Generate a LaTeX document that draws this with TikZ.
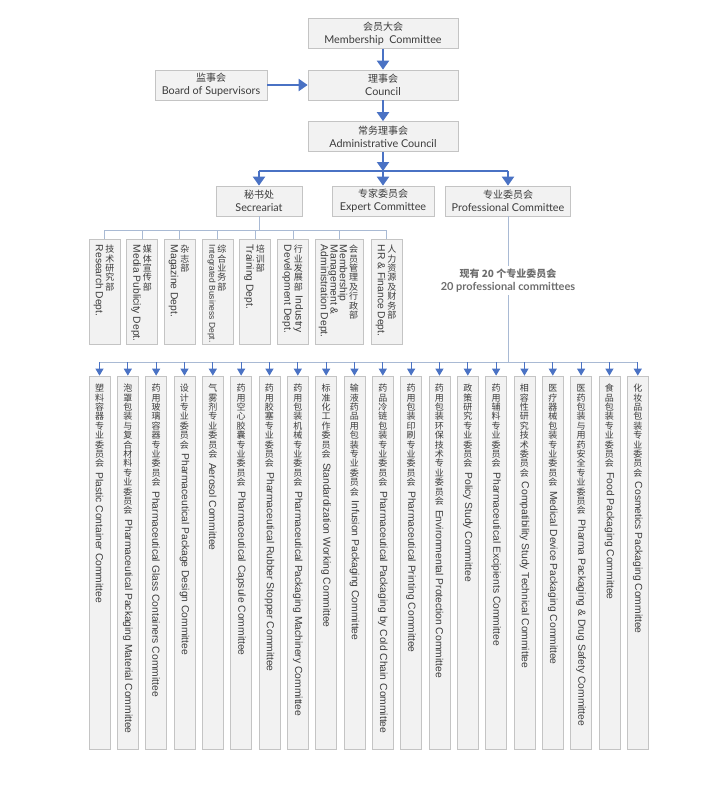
\documentclass[tikz,border=0pt]{standalone}
\usepackage{fontspec}
\usepackage{graphicx}
\usetikzlibrary{arrows.meta}
\setmainfont{Liberation Sans}
\newfontfamily\cjk{Noto Sans CJK SC}
\newfontfamily\hum{Lato}
\definecolor{boxfill}{HTML}{F2F2F2}
\definecolor{boxline}{HTML}{C4C4C4}
\definecolor{textgray}{HTML}{3C3C3C}
\definecolor{notegray}{HTML}{6E6E6E}
\definecolor{arrowblue}{HTML}{4A72C4}
\definecolor{thinline}{HTML}{A9BAD4}
\makeatletter
\newdimen\cn@w \cn@w=11pt
\def\cn@loop#1{\ifx#1\relax\else\hbox to\cn@w{\hss\vrule height 7.9pt depth 1.5pt width 0pt\relax #1\hss}\expandafter\cn@loop\fi}
\newcommand\zhcol[1]{\vtop{\kern0pt\offinterlineskip\cjk\fontsize{9}{9}\selectfont\expandafter\cn@loop#1\relax}}
\newcommand\encol[1]{\vtop{\kern0pt\hbox{\rotatebox{-90}{\fontsize{10.3}{12}\selectfont #1}}}}
\newcommand\vcol[2]{\vtop{\kern0pt\offinterlineskip{\cjk\fontsize{9}{9}\selectfont\expandafter\cn@loop#1\relax}\kern4pt\hbox to\cn@w{\hss\rotatebox{-90}{\fontsize{10.3}{12}\selectfont #2}\hss}}}
\makeatother
\tikzset{
  box/.style={draw=boxline, fill=boxfill, line width=0.7pt, inner sep=0pt},
  topbox/.style={box, minimum height=30pt, align=center, text=textgray, font=\fontsize{10}{13}\selectfont},
  bigarrow/.style={draw=arrowblue, line width=2pt, -{Triangle[width=12pt,length=9pt]}},
  hubline/.style={draw=arrowblue, line width=1.4pt},
  thinconn/.style={draw=thinline, line width=0.9pt},
  smallarrow/.style={draw=arrowblue, line width=1pt, -{Triangle[width=8pt,length=7pt]}},
  lbl/.style={anchor=north, inner sep=0pt, text=textgray}
}
\newcommand\topen[1]{{\hum\fontsize{10.8}{13}\selectfont #1}}
\begin{document}
\begin{tikzpicture}[x=1pt, y=-1pt]
\useasboundingbox (0,0) rectangle (705,785);
% top level
\node[topbox, minimum width=150pt] (mem) at (383,33.5) {{\cjk 会员大会}\\\topen{Membership\ \ Committee}};
\node[topbox, minimum width=150pt] (coun) at (383,85) {{\cjk 理事会}\\\topen{Council}};
\node[topbox, minimum width=112pt] (board) at (211,85) {{\cjk 监事会}\\\topen{Board of Supervisors}};
\node[topbox, minimum width=150pt] (adm) at (383,136.5) {{\cjk 常务理事会}\\\topen{Administrative Council}};
\node[topbox, minimum width=86pt] (sec) at (259,201) {{\cjk 秘书处}\\\topen{Secreariat}};
\node[topbox, minimum width=102pt] (exp) at (383,201) {{\cjk 专家委员会}\\\topen{Expert Committee}};
\node[topbox, minimum width=125pt] (prof) at (508,201) {{\cjk 专业委员会}\\\topen{Professional Committee}};
\coordinate (hub) at (383,171);
\draw[bigarrow] (mem.south) -- (coun.north);
\draw[bigarrow] (coun.south) -- (adm.north);
\draw[bigarrow] (board.east) -- (coun.west);
\draw[bigarrow] (adm.south) -- (hub);
\draw[hubline] (sec.north |- hub) -- (prof.north |- hub);
\foreach \n in {sec,exp,prof} \draw[bigarrow] (\n.north |- hub) -- (\n.north);
% secretariat departments
\coordinate (dbar) at (0,230);
\foreach \x/\w [count=\i] in {104.5/31, 142/31, 179.5/31, 217.5/31, 255/31, 293/31, 339/48, 386.5/31}
  \node[box, minimum width=\w pt, minimum height=105pt] (d\i) at (\x,291.5) {};
\draw[thinconn] (sec.south) -- (sec.south |- dbar);
\draw[thinconn] (d1.north |- dbar) -- (d8.north |- dbar);
\foreach \i in {1,...,8} \draw[thinconn] (d\i.north |- dbar) -- (d\i.north);
\node[lbl, yshift=-6pt] (dl1) at (d1.north) {\encol{Research Dept.}\kern1pt\zhcol{技术研究部}};
\node[lbl, yshift=-6pt] (dl2) at (d2.north) {\encol{Media Publicity Dept.}\kern1pt\zhcol{媒体宣传部}};
\node[lbl, yshift=-6pt] (dl3) at (d3.north) {\encol{Magazine Dept.}\kern1pt\zhcol{杂志部}};
\node[lbl, yshift=-6pt] (dl4) at (d4.north) {\encol{\fontsize{8.5}{10}\selectfont Integrated Business Dept.}\kern1pt\zhcol{综合业务部}};
\node[lbl, yshift=-6pt] (dl5) at (d5.north) {\encol{Training Dept.}\kern1pt\zhcol{培训部}};
\node[lbl, yshift=-6pt] (dl6) at (d6.north) {\encol{Development Dept.}\kern1pt\vcol{行业发展部}{Industry}};
\node[lbl, yshift=-6pt] (dl7) at (d7.north) {\encol{Administration Dept.}\encol{Management \&}\encol{Membership}\kern1pt\zhcol{会员管理及行政部}};
\node[lbl, yshift=-6pt] (dl8) at (d8.north) {\encol{HR \& Finance Dept.}\kern1pt\zhcol{人力资源及财务部}};
% professional committees
\coordinate (bar) at (0,362);
\node[text=notegray, align=center, inner sep=3pt, font=\fontsize{10}{13}\selectfont] (pnote) at (508,280.5) {{\cjk\bfseries 现有 20 个专业委员会}\\{\hum\bfseries\fontsize{11}{13}\selectfont 20 professional committees}};
\draw[thinconn] (prof.south) -- (pnote.north);
\draw[thinconn] (pnote.south) -- (prof.south |- bar);
\foreach \czh/\ceng [count=\i] in {
  塑料容器专业委员会/Plastic Container Committee,
  泡罩包装与复合材料专业委员会/Pharmaceutical Packaging Material Committee,
  药用玻璃容器专业委员会/Pharmaceutical Glass Containers Committee,
  设计专业委员会/Pharmaceutical Package Design Committee,
  气雾剂专业委员会/Aerosol Committee,
  药用空心胶囊专业委员会/Pharmaceutical Capsule Committee,
  药用胶塞专业委员会/Pharmaceutical Rubber Stopper Committee,
  药用包装机械专业委员会/Pharmaceutical Packaging Machinery Committee,
  标准化工作委员会/Standardization Working Committee,
  输液药品用包装专业委员会/Infusion Packaging Committee,
  药品冷链包装专业委员会/Pharmaceutical Packaging by Cold Chain Committee,
  药用包装印刷专业委员会/Pharmaceutical Printing Committee,
  药用包装环保技术专业委员会/Environmental Protection Committee,
  政策研究专业委员会/Policy Study Committee,
  药用辅料专业委员会/Pharmaceutical Excipients Committee,
  相容性研究技术委员会/Compatibility Study Technical Committee,
  医疗器械包装专业委员会/Medical Device Packaging Committee,
  医药包装与用药安全专业委员会/Pharma Packaging \& Drug Safety Committee,
  食品包装专业委员会/Food Packaging Committee,
  化妆品包装专业委员会/Cosmetics Packaging Committee}{
  \pgfmathsetmacro\bx{99.5+(\i-1)*28.33}
  \node[box, minimum width=21pt, minimum height=373pt] (b\i) at (\bx,562.5) {};
  \node[lbl, yshift=-8pt] (t\i) at (b\i.north) {\vcol{\czh}{\ceng}};
}
\draw[thinconn] (b1.north |- bar) -- (b20.north |- bar);
\foreach \i in {1,...,20} \draw[smallarrow] (b\i.north |- bar) -- (b\i.north);
\end{tikzpicture}
\end{document}
